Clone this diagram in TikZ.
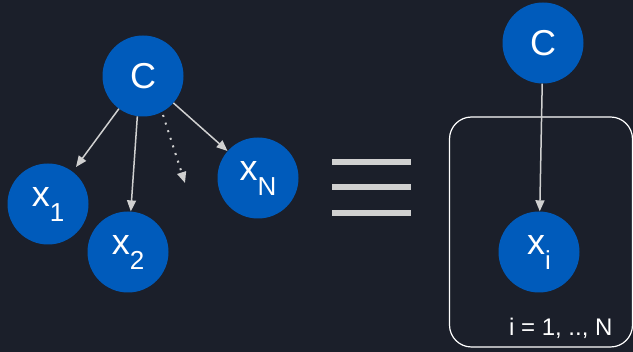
\documentclass[tikz,border=0pt]{standalone}
\usepackage{fontspec}
\setmainfont{Liberation Sans}
\usetikzlibrary{arrows.meta}
\definecolor{bgc}{HTML}{1B1F2A}
\definecolor{nodeblue}{HTML}{005BBB}
\definecolor{linegray}{HTML}{D0D0D0}
\newcommand{\sbx}[2]{#1\raisebox{-15pt}{\fontsize{26}{26}\selectfont #2}}
\begin{document}
\begin{tikzpicture}[x=1pt,y=-1pt,
  rv/.style={circle,fill=nodeblue,minimum size=81pt,inner sep=0pt,text=white,font=\fontsize{36}{36}\selectfont},
  edge/.style={draw=linegray,line width=1.5pt,-{Triangle[length=11pt,width=9pt]}},
  dotedge/.style={draw=linegray,line width=2pt,dash pattern=on 2pt off 6pt,-{Triangle[length=11pt,width=9pt]}},
  eqbar/.style={draw=linegray,line width=6pt}]
\fill[bgc] (0,0) rectangle (633,352);
\useasboundingbox (0,0) rectangle (633,352);
% left graph
\node[rv] (c) at (143,76) {C};
\node[rv] (x1) at (48,204) {\sbx{x}{1}};
\node[rv] (x2) at (128,252) {\sbx{x}{2}};
\node[rv] (xn) at (258,178) {\sbx{x}{N}};
\coordinate (ds) at (163,115);
\coordinate (de) at (185,183);
\coordinate (x1t) at (76,167);
\draw[edge] (c) -- (x1t);
\draw[edge] (c.-98) -- (x2);
\draw[edge] (c) -- (xn);
\draw[dotedge] (ds) -- (de);
% equivalence
\coordinate (e1a) at (332,162); \coordinate (e1b) at (411,162);
\coordinate (e2a) at (332,187); \coordinate (e2b) at (411,187);
\coordinate (e3a) at (332,213); \coordinate (e3b) at (411,213);
\draw[eqbar] (e1a) -- (e1b);
\draw[eqbar] (e2a) -- (e2b);
\draw[eqbar] (e3a) -- (e3b);
% plate
\node[draw=white,line width=1.2pt,rounded corners=22pt,minimum width=183pt,minimum height=230pt,inner sep=0pt] (plate) at (541,232) {};
\node[rv] (c2) at (543,43) {C};
\node[rv] (xi) at (539,252) {\sbx{x}{i}};
\draw[edge] (c2) -- (xi);
\node[text=white,font=\fontsize{24}{24}\selectfont,anchor=east] (lbl) at (616,328) {i = 1, .., N};
\end{tikzpicture}
\end{document}
